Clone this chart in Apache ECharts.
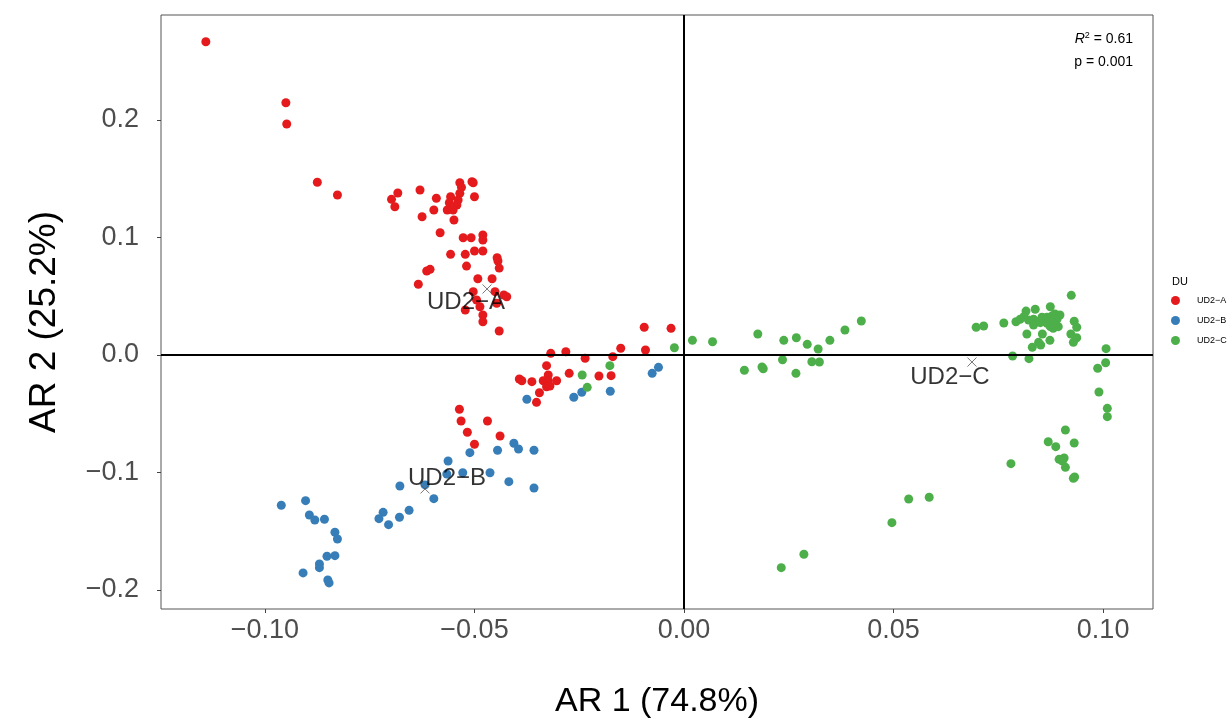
<!DOCTYPE html>
<html>
<head>
<meta charset="utf-8">
<title>AR ordination</title>
<script src="https://cdn.jsdelivr.net/npm/echarts@6/dist/echarts.min.js"></script>
<style>
  html, body { margin: 0; padding: 0; background: #fff; }
  #chart { width: 1228px; height: 719px; }
</style>
</head>
<body>
<div id="chart"></div>
<script>
// group names
var groups = ['UD2−A', 'UD2−B', 'UD2−C'];
var colors = ['#E41A1C', '#377EB8', '#4DAF4A'];

// AR1 / AR2 scores
var udA = [
  [-0.1141,0.2666],[-0.0950,0.2147],[-0.0948,0.1966],[-0.0875,0.1470],[-0.0827,0.1362],
  [-0.0698,0.1325],[-0.0683,0.1379],[-0.0690,0.1262],[-0.0630,0.1404],[-0.0591,0.1334],
  [-0.0597,0.1234],[-0.0625,0.1177],[-0.0582,0.1041],[-0.0557,0.1347],[-0.0560,0.1296],
  [-0.0565,0.1234],[-0.0535,0.1466],[-0.0531,0.1427],[-0.0535,0.1376],[-0.0539,0.1319],
  [-0.0542,0.1277],[-0.0551,0.1234],[-0.0549,0.1149],[-0.0506,0.1475],[-0.0503,0.1466],
  [-0.0500,0.1347],[-0.0527,0.0998],[-0.0508,0.0998],[-0.0480,0.1021],[-0.0480,0.0979],
  [-0.0557,0.0857],[-0.0522,0.0857],[-0.0500,0.0885],[-0.0480,0.0885],[-0.0446,0.0828],
  [-0.0444,0.0800],[-0.0441,0.0740],[-0.0519,0.0757],[-0.0614,0.0715],[-0.0606,0.0729],
  [-0.0634,0.0602],[-0.0492,0.0649],[-0.0458,0.0649],[-0.0503,0.0539],[-0.0495,0.0468],
  [-0.0487,0.0411],[-0.0451,0.0539],[-0.0430,0.0511],[-0.0423,0.0496],[-0.0447,0.0440],
  [-0.0522,0.0383],[-0.0480,0.0340],[-0.0480,0.0283],[-0.0441,0.0204],[-0.0095,0.0236],
  [-0.0031,0.0227],[-0.0151,0.0057],[-0.0092,0.0043],[-0.0170,-0.0014],[-0.0236,-0.0028],
  [-0.0282,0.0028],[-0.0318,0.0014],[-0.0328,-0.0091],[-0.0324,-0.0170],[-0.0336,-0.0219],
  [-0.0324,-0.0219],[-0.0304,-0.0219],[-0.0328,-0.0270],[-0.0320,-0.0264],[-0.0393,-0.0204],
  [-0.0387,-0.0219],[-0.0363,-0.0227],[-0.0274,-0.0156],[-0.0203,-0.0179],[-0.0174,-0.0176],
  [-0.0345,-0.0321],[-0.0352,-0.0403],[-0.0536,-0.0462],[-0.0532,-0.0562],[-0.0517,-0.0658],
  [-0.0500,-0.0760],[-0.0469,-0.0562],[-0.0439,-0.0689]
];
var udB = [
  [-0.0061,-0.0105],[-0.0076,-0.0156],[-0.0176,-0.0309],[-0.0244,-0.0317],[-0.0263,-0.0360],
  [-0.0375,-0.0377],[-0.0406,-0.0751],[-0.0395,-0.0800],[-0.0445,-0.0811],[-0.0358,-0.0811],
  [-0.0511,-0.0831],[-0.0563,-0.0902],[-0.0566,-0.1013],[-0.0528,-0.1002],[-0.0463,-0.1002],
  [-0.0418,-0.1078],[-0.0358,-0.1132],[-0.0678,-0.1115],[-0.0618,-0.1106],[-0.0597,-0.1223],
  [-0.0656,-0.1322],[-0.0679,-0.1381],[-0.0718,-0.1339],[-0.0728,-0.1393],[-0.0705,-0.1444],
  [-0.0961,-0.1279],[-0.0903,-0.1240],[-0.0894,-0.1362],[-0.0881,-0.1404],[-0.0858,-0.1398],
  [-0.0833,-0.1509],[-0.0827,-0.1566],[-0.0852,-0.1713],[-0.0833,-0.1708],[-0.0870,-0.1779],
  [-0.0870,-0.1810],[-0.0909,-0.1855],[-0.0850,-0.1915],[-0.0847,-0.1940]
];
var udC = [
  [-0.0177,-0.0091],[-0.0243,-0.0170],[-0.0231,-0.0275],[-0.0023,0.0062],[0.0020,0.0125],
  [0.0068,0.0113],[0.0176,0.0179],[0.0238,0.0125],[0.0268,0.0147],[0.0294,0.0091],
  [0.0320,0.0051],[0.0348,0.0125],[0.0384,0.0213],[0.0423,0.0289],[0.0235,-0.0040],
  [0.0305,-0.0057],[0.0323,-0.0060],[0.0144,-0.0130],[0.0186,-0.0102],[0.0189,-0.0117],
  [0.0267,-0.0156],[0.0697,0.0236],[0.0715,0.0247],[0.0763,0.0272],[0.0784,-0.0009],
  [0.0823,-0.0031],[0.0924,0.0508],[0.0816,0.0374],[0.0838,0.0389],[0.0874,0.0411],
  [0.0792,0.0283],[0.0802,0.0304],[0.0811,0.0326],[0.0822,0.0298],[0.0834,0.0304],
  [0.0842,0.0283],[0.0854,0.0321],[0.0866,0.0321],[0.0878,0.0332],[0.0885,0.0349],
  [0.0897,0.0340],[0.0890,0.0304],[0.0878,0.0283],[0.0885,0.0270],[0.0874,0.0241],
  [0.0866,0.0270],[0.0850,0.0275],[0.0834,0.0255],[0.0881,0.0227],[0.0893,0.0241],
  [0.0818,0.0179],[0.0855,0.0179],[0.0873,0.0125],[0.0846,0.0108],[0.0851,0.0085],
  [0.0831,0.0066],[0.0931,0.0287],[0.0937,0.0236],[0.0923,0.0179],[0.0937,0.0147],
  [0.0929,0.0108],[0.1007,0.0054],[0.1006,-0.0066],[0.0987,-0.0113],[0.0990,-0.0315],
  [0.1010,-0.0454],[0.1010,-0.0525],[0.0910,-0.0638],[0.0869,-0.0738],[0.0887,-0.0780],
  [0.0931,-0.0749],[0.0895,-0.0888],[0.0907,-0.0877],[0.0903,-0.0902],[0.0910,-0.0956],
  [0.0929,-0.1049],[0.0932,-0.1038],[0.0780,-0.0925],[0.0585,-0.1211],[0.0536,-0.1226],
  [0.0496,-0.1427],[0.0286,-0.1696],[0.0232,-0.1810]
];
// group centroids
var centroids = [[-0.0470,0.0562],[-0.0618,-0.1140],[0.0687,-0.0060]];

// tick labels
var xTicks = [-0.10, -0.05, 0.00, 0.05, 0.10];
var yTicks = [-0.2, -0.1, 0.0, 0.1, 0.2];

var labelOffsets = [[-21, 13], [22, -11], [-22, 15]];

function minus(s) { return s.replace('-', '\u2212'); }

var chart = echarts.init(document.getElementById('chart'));

var pointSeries = [udA, udB, udC].map(function (d, i) {
  return {
    name: groups[i],
    type: 'scatter',
    data: d,
    symbolSize: 9,
    itemStyle: { color: colors[i], opacity: 1 },
    z: 3
  };
});

chart.setOption({
  animation: false,
  textStyle: { fontFamily: 'Liberation Sans' },
  grid: {
    left: 161, right: 75, top: 15, bottom: 110,
    outerBoundsMode: 'none',
    containLabel: false,
    show: true, borderColor: '#555', borderWidth: 1, backgroundColor: '#fff'
  },
  xAxis: {
    type: 'value',
    min: -0.1248, max: 0.1119,
    name: 'AR 1 (74.8%)',
    nameLocation: 'middle',
    nameGap: 76,
    nameTextStyle: { fontSize: 34, color: '#000' },
    axisLine: { show: false, onZero: false },
    splitLine: { show: false },
    axisTick: { show: true, length: 4, lineStyle: { color: '#444' }, customValues: xTicks },
    axisLabel: {
      fontSize: 27, color: '#4d4d4d', margin: 8,
      customValues: xTicks,
      formatter: function (v) { return minus(v.toFixed(2)); }
    }
  },
  yAxis: {
    type: 'value',
    min: -0.2162, max: 0.2894,
    name: 'AR 2 (25.2%)',
    nameLocation: 'middle',
    nameGap: 98,
    nameRotate: 90,
    nameTextStyle: { fontSize: 37, color: '#000', padding: [0, 20, 0, 0] },
    axisLine: { show: false, onZero: false },
    splitLine: { show: false },
    axisTick: { show: true, length: 4, lineStyle: { color: '#444' }, customValues: yTicks },
    axisLabel: {
      fontSize: 27, color: '#4d4d4d', margin: 22,
      customValues: yTicks,
      formatter: function (v) { return minus(v.toFixed(1)); }
    }
  },
  legend: {
    data: groups,
    orient: 'vertical',
    left: 1166,
    top: 291,
    itemWidth: 25,
    itemHeight: 9,
    itemGap: 11,
    icon: 'circle',
    textStyle: { fontSize: 9, color: '#000', padding: [0, 0, 0, 4] }
  },
  graphic: [
    { type: 'text', left: 1172, top: 276, style: { text: 'DU', fontSize: 11, fill: '#000', fontFamily: 'Liberation Sans' } },
    {
      type: 'text', right: 95, top: 31,
      style: {
        text: '{i|R}{s|2}{n| = 0.61}', fontFamily: 'Liberation Sans', fill: '#000',
        rich: {
          i: { fontSize: 14, fontStyle: 'italic' },
          s: { fontSize: 9, verticalAlign: 'top', padding: [0, 0, 8, 0] },
          n: { fontSize: 14 }
        }
      }
    },
    { type: 'text', right: 95, top: 55, style: { text: 'p = 0.001', fontSize: 14, fill: '#000', fontFamily: 'Liberation Sans' } }
  ],
  series: pointSeries.concat([
    {
      name: 'zero',
      type: 'scatter',
      data: [],
      markLine: {
        silent: true,
        symbol: 'none',
        label: { show: false },
        lineStyle: { color: '#000', width: 2, type: 'solid' },
        data: [{ xAxis: 0 }, { yAxis: 0 }]
      },
      z: 2
    },
    {
      name: 'centroid',
      type: 'scatter',
      symbol: 'path://M0,0L10,10M10,0L0,10',
      symbolSize: 9,
      itemStyle: { color: 'transparent', borderColor: '#555', borderWidth: 1 },
      data: centroids.map(function (c, i) {
        return {
          name: groups[i],
          value: c,
          label: {
            show: true, position: 'inside', formatter: '{b}',
            fontSize: 24, color: '#000', offset: labelOffsets[i]
          }
        };
      }),
      z: 5
    }
  ])
});
</script>
</body>
</html>
